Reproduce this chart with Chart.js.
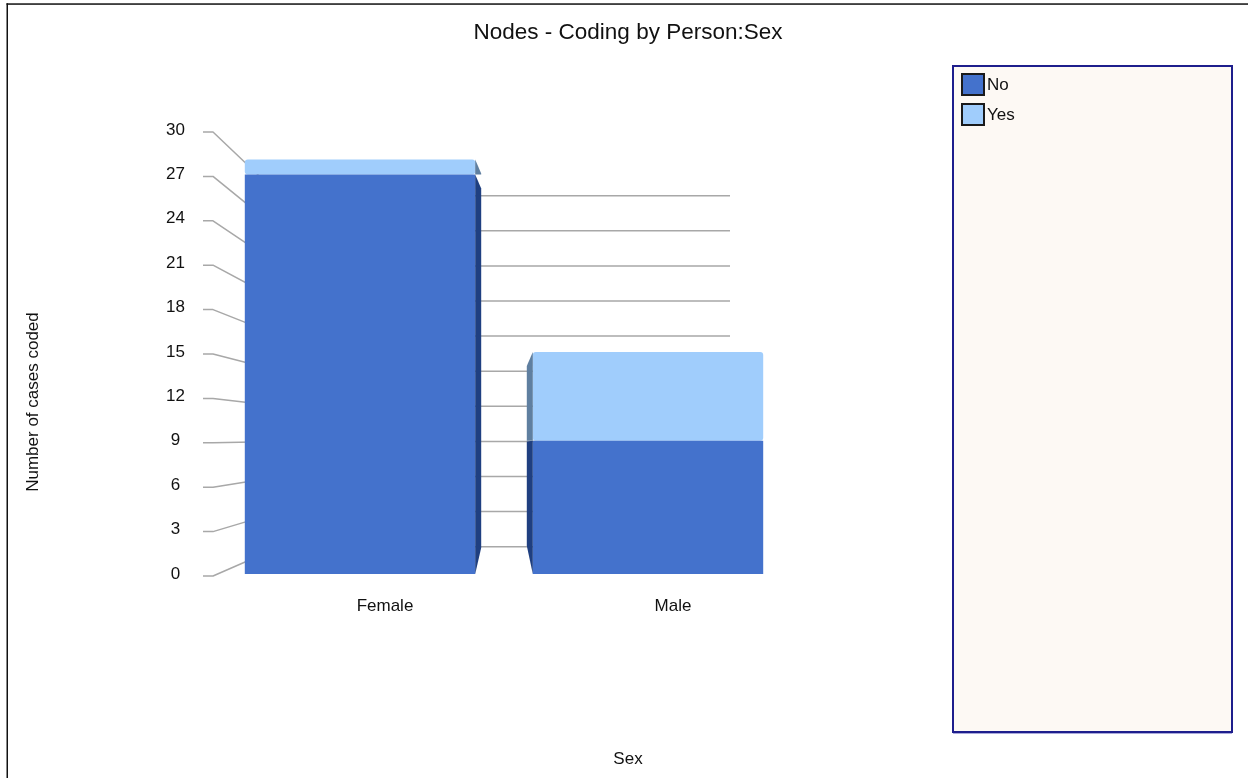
<!DOCTYPE html>
<html>
<head>
<meta charset="utf-8">
<script src="https://cdn.jsdelivr.net/npm/chart.js@4.4.1/dist/chart.umd.min.js"></script>
<style>
  html, body { margin: 0; padding: 0; background: #ffffff; }
  #wrap { position: relative; width: 1248px; height: 778px; }
</style>
</head>
<body>
<div id="wrap"><canvas id="c" width="1248" height="778"></canvas></div>
<script>
// Cases coded per sex, split by the "No" / "Yes" attribute value
const categories = ['Female', 'Male'];
const seriesNames = ['No', 'Yes'];
const noCounts = [27, 9];
const yesCounts = [1, 6];
const axisMin = 0;
const axisMax = 30;
const axisStep = 3;

const FONT = "'Liberation Sans', Arial, Helvetica, sans-serif";
const TEXT = '#111111';
const FRONT = ['#4472cc', '#a0cdfc'];
const SIDE = ['#1f3f80', '#5f7fa0'];

// Back wall of the 3D box: its own value axis (a smaller, shifted copy of the front one)
const BACK_MIN = -2.333;
const BACK_MAX = 35.615;

// Page frame and white background
const framePlugin = {
  id: 'frame',
  beforeDraw(chart) {
    const { ctx, width, height } = chart;
    ctx.save();
    ctx.fillStyle = '#ffffff';
    ctx.fillRect(0, 0, width, height);
    ctx.fillStyle = '#111111';
    ctx.fillRect(6.5, 3.3, width - 6.5, 1.5);
    ctx.fillRect(6.5, 3.3, 1.5, height - 3.3);
    ctx.restore();
  }
};

// Gridlines on the back wall, with leader lines running out to the tick labels
const backWallPlugin = {
  id: 'backWall',
  beforeDatasetsDraw(chart) {
    const { ctx, chartArea: a, scales } = chart;
    const front = scales.y, back = scales.yBack;
    const stub0 = a.left - 13, stub1 = a.left - 3;
    const wallL = a.left + 64, wallR = a.right - 62;
    ctx.save();
    ctx.strokeStyle = '#a8a8a8';
    ctx.lineWidth = 1.5;
    ctx.lineJoin = 'round';
    front.ticks.forEach(t => {
      const yf = front.getPixelForValue(t.value) + 2;
      const yb = back.getPixelForValue(t.value);
      ctx.beginPath();
      ctx.moveTo(stub0, yf);
      ctx.lineTo(stub1, yf);
      ctx.lineTo(wallL, yb);
      ctx.lineTo(wallR, yb);
      ctx.stroke();
    });
    ctx.restore();
  }
};

// Side faces of the bars, receding towards the vanishing point
const sideFacePlugin = {
  id: 'sideFaces',
  afterDatasetsDraw(chart) {
    const { ctx, chartArea: a, scales } = chart;
    const front = scales.y, back = scales.yBack;
    // value where the front and back walls line up
    const fy0 = front.getPixelForValue(0), fy1 = front.getPixelForValue(1);
    const by0 = back.getPixelForValue(0), by1 = back.getPixelForValue(1);
    const vVal = (by0 - fy0) / ((fy1 - fy0) - (by1 - by0));
    const vp = { x: a.left + 289, y: front.getPixelForValue(vVal) };
    const depth = 6;
    ctx.save();
    chart.data.datasets.forEach((ds, di) => {
      const meta = chart.getDatasetMeta(di);
      meta.data.forEach(el => {
        const p = el.getProps(['x', 'y', 'base', 'width'], true);
        const half = p.width / 2;
        const onRight = p.x < vp.x;
        const xf = onRight ? p.x + half : p.x - half;
        const xo = onRight ? xf + depth : xf - depth;
        const t = depth / Math.abs(vp.x - xf);
        const top = Math.min(p.y, p.base), bot = Math.max(p.y, p.base);
        const dt = Math.min(14, Math.max(0, t * (vp.y - top)));
        const db = Math.max(0, t * (bot - vp.y));
        if (bot - db <= top + dt) return; // face hidden behind the bar front
        ctx.fillStyle = SIDE[di];
        ctx.beginPath();
        ctx.moveTo(xf, top);
        ctx.lineTo(xo, top + dt);
        ctx.lineTo(xo, bot - db);
        ctx.lineTo(xf, bot);
        ctx.closePath();
        ctx.fill();
      });
    });
    ctx.restore();
  }
};

// Rotated value-axis caption
const yCaptionPlugin = {
  id: 'yCaption',
  afterDraw(chart) {
    const { ctx } = chart;
    ctx.save();
    ctx.translate(33, 402);
    ctx.rotate(-Math.PI / 2);
    ctx.font = '17px ' + FONT;
    ctx.fillStyle = TEXT;
    ctx.textAlign = 'center';
    ctx.textBaseline = 'middle';
    ctx.fillText('Number of cases coded', 0, 0);
    ctx.restore();
  }
};

// Legend panel on the right
const legendPanelPlugin = {
  id: 'legendPanel',
  afterDraw(chart) {
    const { ctx } = chart;
    const L = 953, T = 66, W = 279, H = 666;
    ctx.save();
    ctx.fillStyle = '#fdf9f4';
    ctx.fillRect(L, T, W, H);
    ctx.strokeStyle = '#a9a9dc';
    ctx.lineWidth = 1;
    ctx.beginPath();
    ctx.moveTo(L, T + H + 1.5);
    ctx.lineTo(L + W, T + H + 1.5);
    ctx.stroke();
    ctx.strokeStyle = '#1e1e8c';
    ctx.lineWidth = 2;
    ctx.strokeRect(L, T, W, H);
    chart.data.datasets.forEach((ds, i) => {
      const y = T + 8 + i * 30;
      ctx.fillStyle = ds.backgroundColor;
      ctx.fillRect(L + 9, y, 22, 21);
      ctx.strokeStyle = '#1a1a1a';
      ctx.lineWidth = 2;
      ctx.strokeRect(L + 9, y, 22, 21);
      ctx.fillStyle = TEXT;
      ctx.font = '17px ' + FONT;
      ctx.textAlign = 'left';
      ctx.textBaseline = 'middle';
      ctx.fillText(ds.label, L + 34, y + 11);
    });
    ctx.restore();
  }
};

new Chart(document.getElementById('c'), {
  type: 'bar',
  data: {
    labels: categories,
    datasets: [
      { label: seriesNames[0], data: noCounts, backgroundColor: FRONT[0] },
      { label: seriesNames[1], data: yesCounts, backgroundColor: FRONT[1] }
    ]
  },
  options: {
    responsive: false,
    animation: false,
    events: [],
    layout: { padding: { left: 8, top: 4, right: 0, bottom: 0 } },
    datasets: {
      bar: {
        categoryPercentage: 1,
        barPercentage: 0.8,
        borderRadius: 3,
        borderSkipped: false,
        borderWidth: 0
      }
    },
    scales: {
      x: {
        stacked: true,
        grid: { display: false },
        border: { display: false },
        ticks: {
          font: { family: FONT, size: 17 },
          color: TEXT,
          padding: 14,
          labelOffset: 25
        },
        afterFit(scale) { scale.height = 175.6; }
      },
      y: {
        stacked: true,
        min: axisMin,
        max: axisMax,
        grid: { display: false, drawTicks: false },
        border: { display: false },
        ticks: {
          stepSize: axisStep,
          font: { family: FONT, size: 17 },
          color: TEXT,
          padding: 31,
          crossAlign: 'center'
        },
        afterFit(scale) { scale.width = 208; }
      },
      yBack: {
        position: 'right',
        min: BACK_MIN,
        max: BACK_MAX,
        grid: { display: false, drawTicks: false },
        border: { display: false },
        ticks: { display: false },
        afterFit(scale) { scale.width = 456; }
      }
    },
    plugins: {
      legend: { display: false },
      tooltip: { enabled: false },
      title: {
        display: true,
        text: 'Nodes - Coding by Person:Sex',
        font: { family: FONT, size: 22.5, weight: 'normal' },
        color: TEXT,
        padding: { top: 15, bottom: 84 }
      },
      subtitle: {
        display: true,
        position: 'bottom',
        text: 'Sex',
        font: { family: FONT, size: 17, weight: 'normal' },
        color: TEXT,
        padding: { top: 0, bottom: 8 }
      }
    }
  },
  plugins: [framePlugin, backWallPlugin, sideFacePlugin, yCaptionPlugin, legendPanelPlugin]
});
</script>
</body>
</html>
